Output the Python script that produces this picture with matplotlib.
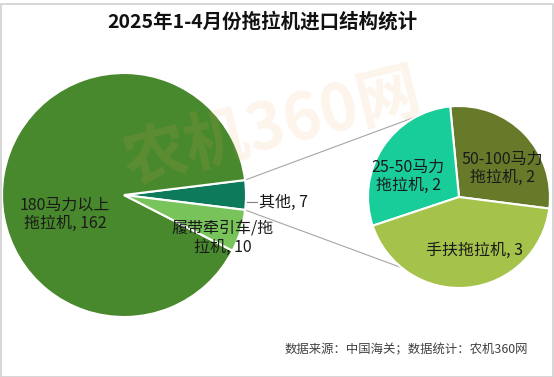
import matplotlib
matplotlib.use('Agg')
from matplotlib import pyplot as plt
from matplotlib.patches import Rectangle
import numpy as np

plt.rcParams['font.family'] = ['Noto Sans CJK SC', 'DejaVu Sans']

title = '2025年1-4月份拖拉机进口结构统计'
source = '数据来源：中国海关；数据统计：农机360网'

# main pie (counterclockwise from the "other" wedge)
main_labels = ['其他', '180马力以上\n拖拉机', '履带牵引车/拖\n拉机']
main_values = [7, 162, 10]
main_colors = ['#0e7a5c', '#48892d', '#78c35a']

# breakdown of "其他"
sub_labels = ['50-100马力\n拖拉机', '25-50马力\n拖拉机', '手扶拖拉机']
sub_values = [2, 2, 3]
sub_colors = ['#677a2a', '#19cd9b', '#a5c24a']

W, H = 554, 377
fig = plt.figure(figsize=(W / 100, H / 100), dpi=100)
ax = fig.add_axes([0, 0, 1, 1])

# pixel positions (y measured from top in the picture)
c1, r1 = (124, H - 195), 122
c2, r2 = (459, H - 197), 91

other_span = main_values[0] / sum(main_values) * 360
start1 = -other_span / 2
ax.pie(main_values, colors=main_colors, startangle=start1, center=c1, radius=r1,
       counterclock=True, wedgeprops=dict(edgecolor='white', linewidth=1.5))

start2 = -7.3
ax.pie(sub_values, colors=sub_colors, startangle=start2, center=c2, radius=r2,
       counterclock=True, wedgeprops=dict(edgecolor='white', linewidth=1.5))

ax.set_xlim(0, W)
ax.set_ylim(0, H)
ax.set_aspect('equal')
ax.axis('off')

# connectors from the "other" wedge to the second pie
a_top, a_bot = np.deg2rad(other_span / 2), np.deg2rad(-other_span / 2)
p_top = (c1[0] + r1 * np.cos(a_top), c1[1] + r1 * np.sin(a_top))
p_bot = (c1[0] + r1 * np.cos(a_bot), c1[1] + r1 * np.sin(a_bot))
q_top = (c2[0] + r2 * np.cos(np.deg2rad(118)), c2[1] + r2 * np.sin(np.deg2rad(118)))
q_bot = (c2[0] + r2 * np.cos(np.deg2rad(-129)), c2[1] + r2 * np.sin(np.deg2rad(-129)))
ax.plot([p_top[0], q_top[0]], [p_top[1], q_top[1]], color='#a6a6a6', lw=0.8, zorder=0)
ax.plot([p_bot[0], q_bot[0]], [p_bot[1], q_bot[1]], color='#a6a6a6', lw=0.8, zorder=0)

# watermark
ax.text(272, H - 128, '农机360网', fontsize=46, fontweight='bold', color='#f4a460',
        alpha=0.12, rotation=14, ha='center', va='center', zorder=5)

fs = 11.5
ax.text(65, H - 214, f'{main_labels[1]}, {main_values[1]}', fontsize=fs, ha='center',
        va='center', color='#1a1a1a', linespacing=1.1, zorder=6)
ax.text(223, H - 238, f'{main_labels[2]}, {main_values[2]}', fontsize=fs, ha='center',
        va='center', color='#1a1a1a', linespacing=1.1, zorder=6)
ax.plot([247, 257], [H - 202, H - 202], color='#808080', lw=0.8, zorder=6)
ax.text(259, H - 202, f'{main_labels[0]}, {main_values[0]}', fontsize=fs, ha='left',
        va='center', color='#1a1a1a', zorder=6)

sub_pos = [(502, H - 168), (408, H - 176), (474, H - 250)]
for lab, v, (x, y) in zip(sub_labels, sub_values, sub_pos):
    ax.text(x, y, f'{lab}, {v}', fontsize=fs, ha='center', va='center',
            color='#1a1a1a', linespacing=1.1, zorder=6)

ax.text(W / 2 - 15, H - 22, title, fontsize=14, fontweight='bold', ha='center',
        va='center', color='#111111')
ax.text(528, H - 350, source, fontsize=8.9, ha='right', va='center', color='#404040')

fig.patches.append(Rectangle((0.5 / W, 0.5 / H), 1 - 1.5 / W, 1 - 4 / H, transform=fig.transFigure,
                             fill=False, edgecolor='#d0d0d0', lw=1.2))

fig.savefig('out.png', dpi=100)
